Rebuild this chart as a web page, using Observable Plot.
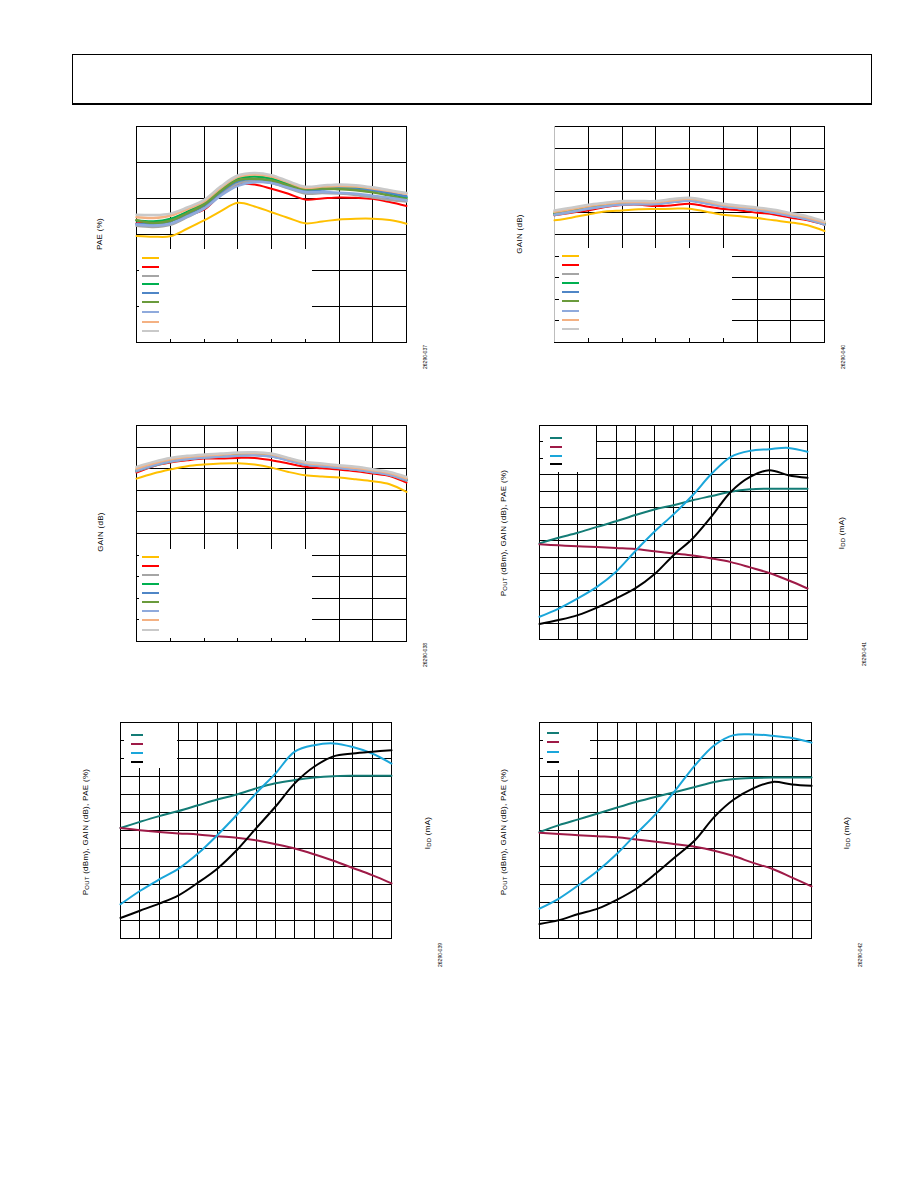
<!DOCTYPE html>
<html><head><meta charset="utf-8">
<script src="https://cdn.jsdelivr.net/npm/d3@7"></script>
<script src="https://cdn.jsdelivr.net/npm/@observablehq/plot@0.6"></script>
<style>
html,body{margin:0;padding:0;background:#fff;}
#page{position:relative;width:918px;height:1188px;overflow:hidden;font-family:"Liberation Sans",Arial,sans-serif;color:#000;background:#fff;}
.hdr{position:absolute;left:72px;top:54px;width:798px;height:48px;border:1px solid #000;border-bottom:2px solid #000;}
.lbl{position:absolute;white-space:nowrap;font-size:8px;letter-spacing:0.3px;transform:translate(-50%,-50%) rotate(-90deg);line-height:1;}
.lbl sub{font-size:6px;vertical-align:-1px;letter-spacing:0.2px;}
.fid{position:absolute;white-space:nowrap;font-size:5px;transform:translate(-50%,-50%) rotate(-90deg);line-height:1;}
.box{position:absolute;background:#fff;}
.sw{position:absolute;height:2px;}
#page svg{position:absolute;}
</style></head>
<body><div id="page"><div class="hdr"></div></div>
<script>
// ---------------- DATA ----------------
// Frequency sweeps (GHz, x) — tick labels not printed on the page
const freq = [2,3,4,5,6,7,8,9,10,11,12,13,14,15,16,17,18];
const freqTicks = [2,4,6,8,10,12,14,16,18];
const paeTicks = [0,10,20,30,40,50,60];
const gainTicks = [0,2,4,6,8,10,12,14,16,18,20];

const bandColors = ["#FFC000","#FF0000","#A5A5A5","#00B050","#4F86C6","#6A9B3C","#8FAADC","#F4B183","#C9C9C9"];

// Chart 1: PAE (%) vs frequency
const pae1Orange   = [29.6,29.4,29.5,31.6,33.9,36.5,38.8,37.8,36.2,34.6,33.1,33.6,34.2,34.4,34.4,34.0,33.0];
const pae1Red      = [33.1,33.3,33.9,35.3,36.9,41.1,43.9,43.9,42.7,41.3,39.7,40.0,40.3,40.2,39.9,39.0,37.9];
const pae1Gray     = [32.4,32.1,32.7,34.8,37.3,41.2,44.2,44.8,44.3,42.8,41.4,41.5,41.4,41.0,40.3,39.6,39.2];
const pae1Green    = [33.9,33.6,34.3,36.3,38.8,42.6,45.6,46.1,45.5,44.0,42.7,42.9,43.1,43.0,42.4,41.4,40.2];
const pae1Blue     = [32.9,32.9,33.6,35.6,38.0,41.8,44.8,45.4,44.8,43.2,42.1,42.5,42.8,42.6,42.2,41.5,40.6];
const pae1Olive    = [34.0,33.2,33.8,35.9,38.3,42.1,45.1,45.5,45.0,43.6,42.6,42.8,42.6,42.3,41.7,40.8,39.8];
const pae1Lavender = [32.8,32.5,33.0,35.0,37.2,40.8,43.5,44.5,44.3,43.0,41.8,41.8,41.6,41.3,40.8,40.2,39.5];
const pae1Salmon   = [34.8,34.6,35.2,37.0,39.2,43.0,46.0,46.7,46.1,44.5,43.0,43.3,43.5,43.3,42.8,42.1,41.3];
const pae1Light    = [35.5,35.4,35.8,37.5,39.6,43.4,46.4,47.1,46.5,44.8,43.3,43.6,43.9,43.7,43.1,42.3,41.5];

// Chart 2: GAIN (dB) vs frequency
const gain2Orange   = [11.31,11.56,11.86,12.14,12.23,12.33,12.36,12.39,12.39,12.11,11.83,11.68,11.52,11.31,11.12,10.85,10.32];
const gain2Red      = [11.77,12.02,12.23,12.54,12.73,12.76,12.63,12.70,12.85,12.60,12.36,12.23,12.02,11.86,11.56,11.31,10.91];
const gain2Gray     = [11.80,12.08,12.38,12.62,12.80,12.82,12.84,13.02,13.14,12.90,12.62,12.44,12.26,12.04,11.74,11.40,10.92];
const gain2Green    = [11.95,12.22,12.52,12.74,12.90,12.92,12.92,13.10,13.22,12.98,12.70,12.52,12.34,12.12,11.82,11.50,11.02];
const gain2Blue     = [11.86,12.12,12.42,12.66,12.82,12.84,12.86,13.04,13.16,12.92,12.64,12.46,12.28,12.06,11.76,11.44,10.96];
const gain2Olive    = [11.92,12.20,12.50,12.74,12.92,12.92,12.90,13.06,13.18,12.96,12.70,12.54,12.36,12.12,11.80,11.46,10.98];
const gain2Lavender = [11.84,12.10,12.40,12.62,12.78,12.80,12.82,13.00,13.12,12.88,12.60,12.42,12.24,12.02,11.72,11.40,10.94];
const gain2Salmon   = [12.10,12.36,12.64,12.84,12.98,13.00,13.00,13.18,13.30,13.06,12.76,12.58,12.42,12.20,11.90,11.58,11.12];
const gain2Light    = [12.23,12.48,12.76,12.94,13.10,13.10,13.10,13.28,13.40,13.16,12.85,12.67,12.51,12.30,11.99,11.68,11.22];

// Chart 3: GAIN (dB) vs frequency
const gain3Orange   = [15.08,15.55,15.92,16.23,16.38,16.48,16.51,16.38,16.10,15.70,15.39,15.27,15.18,15.02,14.84,14.56,13.85];
const gain3Red      = [15.64,16.23,16.57,16.78,16.94,16.94,17.00,17.00,16.78,16.48,16.17,16.04,15.92,15.77,15.55,15.33,14.71];
const gain3Gray     = [15.76,16.26,16.64,16.88,17.02,17.12,17.22,17.26,17.14,16.78,16.38,16.22,16.06,15.90,15.68,15.42,14.90];
const gain3Green    = [15.85,16.36,16.75,16.98,17.12,17.22,17.32,17.36,17.26,16.90,16.50,16.34,16.16,16.00,15.78,15.52,15.00];
const gain3Blue     = [15.80,16.30,16.68,16.92,17.06,17.16,17.26,17.30,17.18,16.82,16.42,16.26,16.10,15.94,15.72,15.46,14.94];
const gain3Olive    = [15.84,16.34,16.72,16.96,17.10,17.20,17.30,17.34,17.22,16.86,16.46,16.30,16.14,15.98,15.76,15.50,14.98];
const gain3Lavender = [15.82,16.32,16.68,16.90,17.04,17.12,17.20,17.24,17.12,16.76,16.40,16.24,16.08,15.92,15.70,15.44,14.96];
const gain3Salmon   = [16.02,16.50,16.88,17.08,17.22,17.32,17.42,17.45,17.34,16.94,16.56,16.40,16.24,16.08,15.86,15.60,15.12];
const gain3Light    = [16.17,16.63,17.00,17.19,17.31,17.40,17.50,17.53,17.40,17.00,16.63,16.48,16.32,16.17,15.95,15.70,15.24];

// Power sweeps: input power (dBm, x)
const pin = [-10,-8,-6,-4,-2,0,2,4,6,8,10,12,14,16,18];
const pinTicks = pin;
const sweepNames = ["POUT","GAIN","PAE","IDD"];
const sweepColors = ["#137C76","#9E1A47","#1AA6DA","#000000"];
const leftTicks13 = [0,5,10,15,20,25,30,35,40,45,50,55,60,65];
const leftTicks12 = [0,5,10,15,20,25,30,35,40,45,50,55,60];

// Chart 4 (left axis 0–65, right axis IDD 0–1300 mA)
const pout4 = [29.2,30.9,32.4,34.2,35.9,37.8,39.5,40.8,42.3,43.6,44.9,45.6,45.8,45.8,45.8];
const gain4 = [28.9,28.6,28.3,28.1,27.8,27.5,26.8,26.1,25.5,24.6,23.5,21.9,20.2,18.0,15.5];
const paeP4 = [6.9,9.4,12.5,16.0,20.6,26.8,32.7,38.0,43.8,50.4,55.5,57.3,57.8,58.2,57.0];
const idd4  = [94,118,148,194,250,310,396,512,614,750,898,988,1028,998,982];

// Chart 5 (left axis 0–60, right axis IDD 0–1200 mA)
const pout5 = [30.7,32.4,34.0,35.4,37.0,38.6,40.0,41.7,43.1,44.0,44.7,45.1,45.2,45.2,45.2];
const gain5 = [30.7,30.1,29.6,29.2,28.9,28.4,28.0,27.3,26.2,25.0,23.4,21.6,19.6,17.6,15.3];
const paeP5 = [9.5,13.2,16.4,19.4,23.6,28.7,34.3,40.3,45.8,51.9,53.7,54.2,53.2,51.4,48.6];
const idd5  = [114,154,194,240,310,388,490,612,732,862,954,1012,1028,1038,1046];

// Chart 6 (left axis 0–60, right axis IDD 0–1200 mA)
const pout6 = [29.6,31.5,33.1,34.7,36.4,38.0,39.4,40.7,42.1,43.5,44.3,44.6,44.7,44.7,44.7];
const gain6 = [29.4,29.0,28.7,28.4,28.1,27.5,26.9,26.2,25.5,24.4,22.9,21.0,19.3,16.9,14.5];
const paeP6 = [8.3,11.1,14.8,18.8,23.6,29.2,34.7,41.2,48.1,53.7,56.5,56.7,56.3,55.7,54.4];
const idd6  = [80,102,136,166,216,278,362,454,546,676,772,834,870,856,848];

const iddRight4 = [0,1300];
const iddRight5 = [0,1200];
const iddRight6 = [0,1200];

// ---------------- LAYOUT ----------------
const page = document.getElementById("page");
const M = 3;

function rows(xs, ys) { return ys.map((v, i) => ({x: xs[i], y: v})); }

function chart(cfg) {
  const w = cfg.x1 - cfg.x0, h = cfg.y1 - cfg.y0;
  const marks = [
    Plot.ruleX(cfg.xTicks, {stroke: "#000", strokeWidth: 1, shapeRendering: "crispEdges"}),
    Plot.ruleY(cfg.yTicks, {stroke: "#000", strokeWidth: 1, shapeRendering: "crispEdges"}),
    Plot.frame({stroke: "#000", strokeWidth: 1, shapeRendering: "crispEdges"})
  ];
  if (cfg.leftGray) marks.push(Plot.ruleX([cfg.xDomain[0]], {stroke: "#BDBDBD", strokeWidth: 1, shapeRendering: "crispEdges"}));
  cfg.series.forEach(s => {
    marks.push(Plot.line(rows(cfg.xs, s.values), {x: "x", y: "y", stroke: s.color, strokeWidth: s.width || 2, curve: "catmull-rom"}));
  });
  const svg = Plot.plot({
    width: w + 2 * M, height: h + 2 * M,
    marginLeft: M, marginRight: M, marginTop: M, marginBottom: M,
    x: {domain: cfg.xDomain, axis: null},
    y: {domain: cfg.yDomain, axis: null},
    style: {background: "transparent", overflow: "visible"},
    marks
  });
  svg.style.left = (cfg.x0 - M) + "px";
  svg.style.top = (cfg.y0 - M) + "px";
  page.appendChild(svg);

  // legend box (white) with colour swatches
  const b = cfg.legendBox;
  const box = document.createElement("div");
  box.className = "box";
  Object.assign(box.style, {left: b[0] + "px", top: b[1] + "px", width: (b[2] - b[0]) + "px", height: (b[3] - b[1]) + "px"});
  page.appendChild(box);
  cfg.series.forEach((s, i) => {
    const sw = document.createElement("div");
    sw.className = "sw";
    Object.assign(sw.style, {left: cfg.swatch.x0 + "px", width: (cfg.swatch.x1 - cfg.swatch.x0) + "px",
      top: (cfg.swatch.ys[i] - 1) + "px", background: s.color});
    page.appendChild(sw);
  });

  // axis labels
  cfg.labels.forEach(l => {
    const d = document.createElement("div");
    d.className = "lbl";
    d.innerHTML = l.html;
    Object.assign(d.style, {left: l.cx + "px", top: l.cy + "px"});
    page.appendChild(d);
  });
  const f = document.createElement("div");
  f.className = "fid";
  f.textContent = cfg.fid.text;
  Object.assign(f.style, {left: cfg.fid.cx + "px", top: cfg.fid.cy + "px"});
  page.appendChild(f);
}

function band(valuesList) {
  return valuesList.map((v, i) => ({values: v, color: bandColors[i], width: i <= 1 ? 2 : 2.5}));
}

const poutLabel = "P<sub>OUT</sub> (dBm), GAIN (dB), PAE (%)";
const iddLabel = "I<sub>DD</sub> (mA)";

// Chart 1
chart({
  x0: 136, x1: 406, y0: 126, y1: 342,
  xs: freq, xDomain: [2, 18], yDomain: [0, 60], xTicks: freqTicks, yTicks: paeTicks,
  series: band([pae1Orange, pae1Red, pae1Gray, pae1Green, pae1Blue, pae1Olive, pae1Lavender, pae1Salmon, pae1Light]),
  legendBox: [139, 249, 312, 339],
  swatch: {x0: 142, x1: 159, ys: [257.7,266.7,275.7,284.3,293.3,302.3,311.7,321.7,330.7]},
  labels: [{html: "PAE (%)", cx: 100, cy: 234}],
  fid: {text: "26290-037", cx: 425, cy: 356.5}
});

// Chart 2
chart({
  x0: 554, x1: 824, y0: 126, y1: 342,
  xs: freq, xDomain: [2, 18], yDomain: [0, 20], xTicks: freqTicks, yTicks: gainTicks, leftGray: true,
  series: band([gain2Orange, gain2Red, gain2Gray, gain2Green, gain2Blue, gain2Olive, gain2Lavender, gain2Salmon, gain2Light]),
  legendBox: [559, 248, 732, 338],
  swatch: {x0: 562, x1: 579, ys: [255.7,264.7,273.7,282.7,291.7,300.7,310.7,319.7,328.7]},
  labels: [{html: "GAIN (dB)", cx: 519.5, cy: 234}],
  fid: {text: "26290-040", cx: 842.5, cy: 356.5}
});

// Chart 3
chart({
  x0: 136, x1: 406, y0: 425, y1: 641,
  xs: freq, xDomain: [2, 18], yDomain: [0, 20], xTicks: freqTicks, yTicks: gainTicks,
  series: band([gain3Orange, gain3Red, gain3Gray, gain3Green, gain3Blue, gain3Olive, gain3Lavender, gain3Salmon, gain3Light]),
  legendBox: [139, 549, 312, 638],
  swatch: {x0: 142, x1: 159, ys: [556.7,565.7,574.7,583.7,592.7,601.7,610.7,619.7,629.7]},
  labels: [{html: "GAIN (dB)", cx: 100.5, cy: 532}],
  fid: {text: "26290-038", cx: 425, cy: 654.5}
});

function sweep(pout, gain, pae, idd, leftDomain, iddDomain) {
  const toLeft = v => leftDomain[0] + (v - iddDomain[0]) / (iddDomain[1] - iddDomain[0]) * (leftDomain[1] - leftDomain[0]);
  return [pout, gain, pae, idd.map(toLeft)].map((v, i) => ({values: v, color: sweepColors[i], width: 2}));
}

// Chart 4
chart({
  x0: 539, x1: 807, y0: 425, y1: 639,
  xs: pin, xDomain: [-10, 18], yDomain: [0, 65], xTicks: pinTicks, yTicks: leftTicks13,
  series: sweep(pout4, gain4, paeP4, idd4, [0, 65], iddRight4),
  legendBox: [543, 426, 596, 472],
  swatch: {x0: 550, x1: 562, ys: [437.7,446.7,455.7,464.3]},
  labels: [{html: poutLabel, cx: 504, cy: 532.5}, {html: iddLabel, cx: 841.5, cy: 532.5}],
  fid: {text: "26290-041", cx: 864, cy: 654}
});

// Chart 5
chart({
  x0: 120, x1: 391, y0: 722, y1: 938,
  xs: pin, xDomain: [-10, 18], yDomain: [0, 60], xTicks: pinTicks, yTicks: leftTicks12,
  series: sweep(pout5, gain5, paeP5, idd5, [0, 60], iddRight5),
  legendBox: [124, 723, 177, 768],
  swatch: {x0: 131, x1: 143, ys: [735,744,753.3,762.3]},
  labels: [{html: poutLabel, cx: 86, cy: 831.5}, {html: iddLabel, cx: 428, cy: 833}],
  fid: {text: "26290-039", cx: 440, cy: 955}
});

// Chart 6
chart({
  x0: 539, x1: 811, y0: 722, y1: 938,
  xs: pin, xDomain: [-10, 18], yDomain: [0, 60], xTicks: pinTicks, yTicks: leftTicks12,
  series: sweep(pout6, gain6, paeP6, idd6, [0, 60], iddRight6),
  legendBox: [543, 723, 590, 770],
  swatch: {x0: 547, x1: 559, ys: [733.3,742.3,751.7,761.7]},
  labels: [{html: poutLabel, cx: 503.5, cy: 831.5}, {html: iddLabel, cx: 846.5, cy: 833}],
  fid: {text: "26290-042", cx: 860, cy: 955}
});
</script></body></html>
